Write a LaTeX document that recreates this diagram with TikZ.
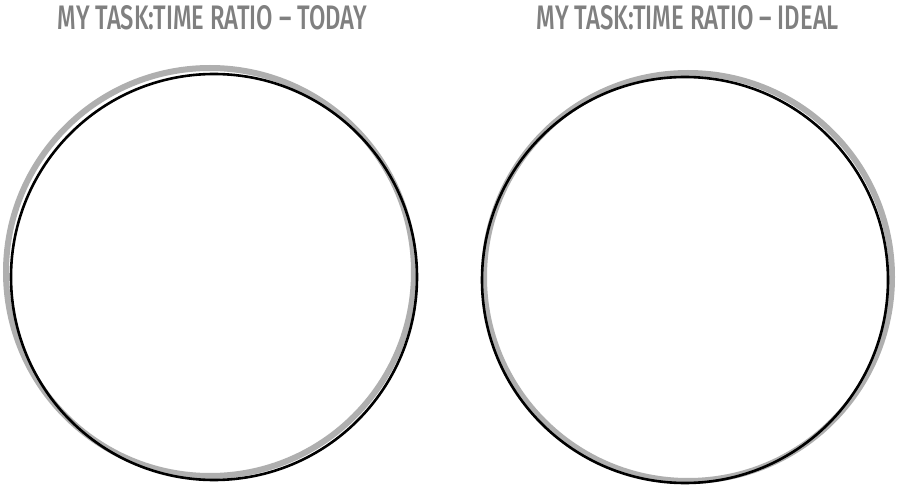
\documentclass[tikz,border=0pt]{standalone}
\usepackage{fontspec}
\usepackage{graphicx}
\setmainfont{Fira Sans}[UprightFont=* Medium]
\definecolor{titlegray}{RGB}{128,128,128}
\definecolor{shadegray}{RGB}{175,175,175}
\begin{document}
\begin{tikzpicture}[x=1pt,y=-1pt,
  ring/.style={circle,draw=black,line width=2.6pt,minimum size=406pt,inner sep=0pt},
  ringshade/.style={draw=shadegray,line width=6pt},
  title/.style={anchor=base,inner sep=0pt,text=titlegray}]
\useasboundingbox[fill=white] (0,0) rectangle (898,492);
% shadows
\draw[ringshade] (210,272) circle (204);
\draw[ringshade] (688,277) circle (204);
% circles
\node[ring] (today) at (214,277) {};
\node[ring] (ideal) at (685,280) {};
% titles
\node[title] (ttoday) at (212.5,30) {\resizebox{309pt}{24pt}{\fontsize{20}{24}\selectfont MY TASK:TIME RATIO – TODAY}};
\node[title] (tideal) at (688,30) {\resizebox{302pt}{24pt}{\fontsize{20}{24}\selectfont MY TASK:TIME RATIO – IDEAL}};
\end{tikzpicture}
\end{document}
